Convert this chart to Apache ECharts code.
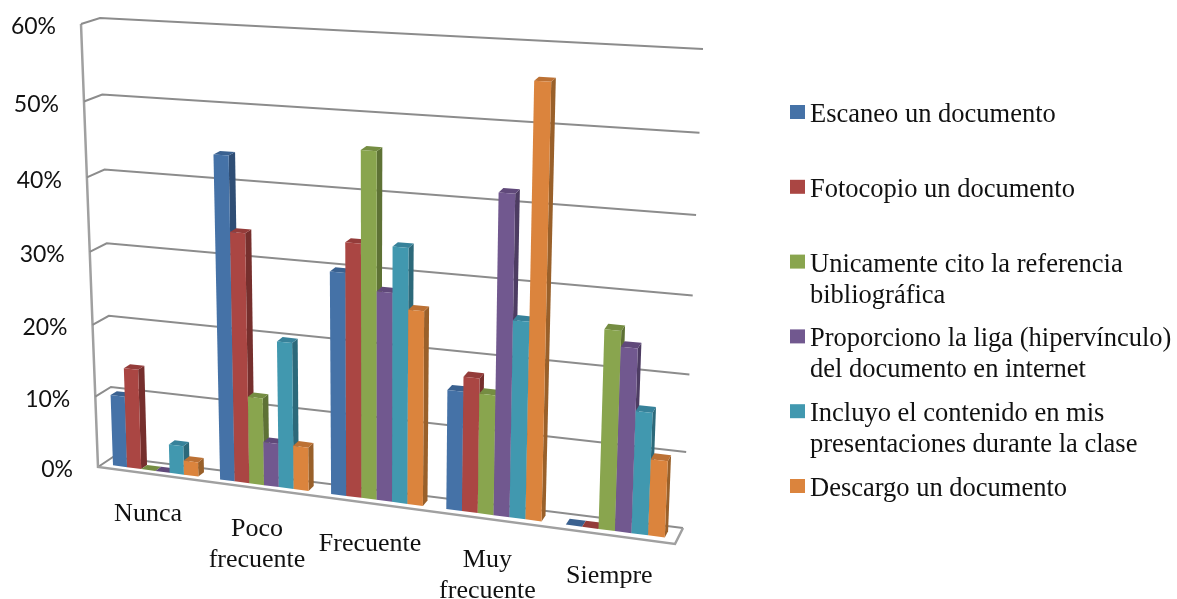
<!DOCTYPE html>
<html><head><meta charset="utf-8">
<style>html,body{margin:0;padding:0;background:#fff}#c{width:1177px;height:599px}</style>
<script src="https://cdn.jsdelivr.net/npm/echarts@6/dist/echarts.min.js"></script></head>
<body><div id="c"></div>
<script>
const categories = ['Nunca','Poco\nfrecuente','Frecuente','Muy\nfrecuente','Siempre'];
const yTicks = [0,10,20,30,40,50,60];
const seriesNames = ['Escaneo un documento','Fotocopio un documento','Unicamente cito la referencia bibliográfica','Proporciono la liga (hipervínculo) del documento en internet','Incluyo el contenido en mis presentaciones durante la clase','Descargo un documento'];
const legendLines = [['Escaneo un documento',' '],['Fotocopio un documento',' '],['Unicamente cito la referencia','bibliográfica'],['Proporciono la liga (hipervínculo)','del documento en internet'],['Incluyo el contenido en mis','presentaciones durante la clase'],['Descargo un documento',' ']];
const escaneo = [10,44,30,16,0];
const fotocopio = [14,34,34,18,0];
const cito = [0,12,46,16,26];
const liga = [0,6,28,42,24];
const incluyo = [4,20,34,26,16];
const descargo = [2,6,26,56,10];
const seriesValues = [escaneo,fotocopio,cito,liga,incluyo,descargo];
const colors = ['#4572A7','#AA4643','#89A54E','#71588F','#4198AF','#DB843D'];
const sideColors = ['#2F4E75','#762F2D','#5E7235','#4D3C62','#2C697A','#99602A'];
const topColors = ['#3A6190','#943C3A','#758D42','#60497A','#37829A','#BC7134'];

// perspective planes: corners of the front and back of the 3D box
const GRID = {left:98, top:24, width:577, height:443};
function homography(p0,p1,p2,p3){
  const dx1=p1[0]-p2[0],dx2=p3[0]-p2[0],sx=p0[0]-p1[0]+p2[0]-p3[0];
  const dy1=p1[1]-p2[1],dy2=p3[1]-p2[1],sy=p0[1]-p1[1]+p2[1]-p3[1];
  const det=dx1*dy2-dx2*dy1;
  const g=(sx*dy2-dx2*sy)/det,h=(dx1*sy-sx*dy1)/det;
  const a=p1[0]-p0[0]+g*p1[0],b=p3[0]-p0[0]+h*p3[0],c=p0[0];
  const d=p1[1]-p0[1]+g*p1[1],e=p3[1]-p0[1]+h*p3[1],f=p0[1];
  return (u,v)=>{const w=g*u+h*v+1;return [(a*u+b*v+c)/w,(d*u+e*v+f)/w];};
}
const frontPlane = homography([98,467],[675,544],[694,60],[81,24]);
const backPlane  = homography([113,457],[683,528],[703,49],[100,18]);
function project(px,py,depth){
  const u=(px-GRID.left)/GRID.width, v=1-(py-GRID.top)/GRID.height;
  const f=frontPlane(u,v), b=backPlane(u,v);
  return [f[0]+(b[0]-f[0])*depth, f[1]+(b[1]-f[1])*depth];
}
const GROUP = 0.8, D1 = 0.3, D2 = 0.7;
const LINE = {stroke:'#8C8C8C', lineWidth:2, fill:null};

function wallItem(params, api){
  const t=api.value(1);
  const y=api.coord([0,t])[1];
  const xl=GRID.left, xr=GRID.left+GRID.width;
  const a=project(xl,y,0);
  const children=[
    {type:'polyline',shape:{points:[a,project(xl,y,1),project(xr,y,1)]},style:LINE},
    {type:'text',style:{text:t+'%',x:a[0]-25,y:a[1]+3,align:'right',verticalAlign:'middle',font:'23px Lato',fill:'#111'}}
  ];
  if(t===0){
    const y60=api.coord([0,60])[1];
    children.push({type:'polyline',shape:{points:[project(xl,y60,0),a,project(xr,y,0),project(xr,y,1)]},style:{stroke:'#A0A0A0',lineWidth:2.5,fill:null}});
  }
  return {type:'group',children};
}
function labelItem(params, api){
  const i=api.value(0);
  const c=api.coord([i,0]);
  const p=project(c[0],c[1],0);
  return {type:'text',style:{text:categories[i],x:p[0]-3,y:p[1]+25,align:'center',verticalAlign:'top',font:'26px "Liberation Serif"',lineHeight:31,fill:'#111'}};
}
const barItem = k => (params, api)=>{
  const i=api.value(0), val=api.value(1);
  const top=api.coord([i,val]), base=api.coord([i,0]);
  const band=api.size([1,0])[0];
  const w=band*GROUP/6, x0=top[0]-band*GROUP/2+k*w, x1=x0+w;
  const ft0=project(x0,top[1],D1), ft1=project(x1,top[1],D1), fb0=project(x0,base[1],D1), fb1=project(x1,base[1],D1);
  const bt0=project(x0,top[1],D2), bt1=project(x1,top[1],D2), bb1=project(x1,base[1],D2);
  return {type:'group',children:[
    {type:'polygon',shape:{points:[ft1,bt1,bb1,fb1]},style:{fill:sideColors[k]}},
    {type:'polygon',shape:{points:[ft0,bt0,bt1,ft1]},style:{fill:topColors[k]}},
    {type:'polygon',shape:{points:[ft0,ft1,fb1,fb0]},style:{fill:colors[k]}}
  ]};
};
const series=[
  {type:'custom',coordinateSystem:'cartesian2d',silent:true,z:1,renderItem:wallItem,data:yTicks.map(t=>[0,t])},
  {type:'custom',coordinateSystem:'cartesian2d',silent:true,z:1,renderItem:labelItem,data:categories.map((c,i)=>[i,0])}
];
seriesNames.forEach((name,k)=>series.push({
  name,type:'custom',coordinateSystem:'cartesian2d',silent:true,z:2+k,
  itemStyle:{color:colors[k]},renderItem:barItem(k),data:seriesValues[k].map((v,i)=>[i,v])
}));
const chart=echarts.init(document.getElementById('c'),null,{renderer:'canvas'});
const legendFont={fontFamily:'Liberation Serif',fontSize:26.5,lineHeight:31,color:'#111'};
chart.setOption({
  animation:false,backgroundColor:'#fff',
  grid:{left:GRID.left,top:GRID.top,width:GRID.width,height:GRID.height,containLabel:false},
  xAxis:{type:'category',data:categories,show:false,boundaryGap:true},
  yAxis:{type:'value',min:0,max:60,interval:10,show:false},
  legend:{
    orient:'vertical',left:790,top:62.5,padding:0,itemWidth:15,itemHeight:14,itemGap:-24.2,icon:'rect',
    selectedMode:false,data:seriesNames,
    formatter:n=>{const l=legendLines[seriesNames.indexOf(n)];return '{s| }\n{t|'+l[0]+'}\n{t|'+l[1]+'}';},
    textStyle:{...legendFont,rich:{s:{fontSize:26.5,lineHeight:37},t:legendFont}}
  },
  series
});
</script></body></html>
